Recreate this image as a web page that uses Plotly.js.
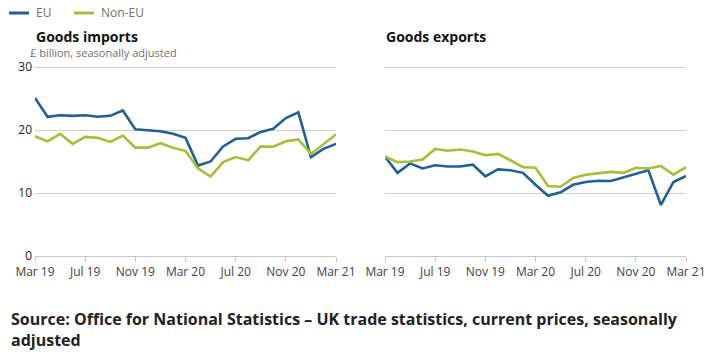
<!DOCTYPE html>
<html>
<head>
<meta charset="utf-8">
<script src="https://cdn.plot.ly/plotly-3.0.1.min.js"></script>
<style>html,body{margin:0;padding:0;background:#fff;}#chart{width:715px;height:353px;}</style>
</head>
<body>
<div id="chart"></div>
<script>
const months = ["Mar 19","Apr 19","May 19","Jun 19","Jul 19","Aug 19","Sep 19","Oct 19","Nov 19","Dec 19",
  "Jan 20","Feb 20","Mar 20","Apr 20","May 20","Jun 20","Jul 20","Aug 20","Sep 20","Oct 20","Nov 20","Dec 20",
  "Jan 21","Feb 21","Mar 21"];
const tickLabels = ["Mar 19","Jul 19","Nov 19","Mar 20","Jul 20","Nov 20","Mar 21"];
const yTicks = [0, 10, 20, 30];

const importsEU = [25.1,22.1,22.35,22.25,22.35,22.1,22.25,23.1,20.1,20.0,19.8,19.4,18.75,14.35,15.0,17.4,18.6,18.7,19.7,20.2,21.9,22.8,15.7,17.0,17.8];
const importsNonEU = [19.0,18.2,19.4,17.8,18.9,18.75,18.1,19.1,17.2,17.2,17.9,17.2,16.7,13.9,12.6,14.9,15.7,15.2,17.4,17.35,18.2,18.5,16.2,17.7,19.3];
const exportsEU = [15.76,13.2,14.7,13.9,14.4,14.2,14.2,14.5,12.65,13.75,13.6,13.2,11.3,9.55,10.1,11.3,11.75,11.95,11.9,12.5,13.1,13.6,8.1,11.75,12.7];
const exportsNonEU = [15.8,14.9,15.0,15.3,17.0,16.7,16.9,16.6,16.0,16.2,15.2,14.1,14.0,11.1,11.0,12.4,12.9,13.1,13.35,13.2,14.0,13.9,14.3,12.9,14.1];

const EU_COLOR = "#206095";
const NONEU_COLOR = "#A8BD3A";
const W = 715, H = 353;
const px = x => x / W;
const py = y => 1 - y / H;

const lineStyle = c => ({color: c, width: 2.6});
const traces = [
  {x: months, y: importsEU, type: "scatter", mode: "lines", name: "EU", line: lineStyle(EU_COLOR), xaxis: "x", yaxis: "y", showlegend: false},
  {x: months, y: importsNonEU, type: "scatter", mode: "lines", name: "Non-EU", line: lineStyle(NONEU_COLOR), xaxis: "x", yaxis: "y", showlegend: false},
  {x: months, y: exportsEU, type: "scatter", mode: "lines", name: "EU", line: lineStyle(EU_COLOR), xaxis: "x2", yaxis: "y2", showlegend: false},
  {x: months, y: exportsNonEU, type: "scatter", mode: "lines", name: "Non-EU", line: lineStyle(NONEU_COLOR), xaxis: "x2", yaxis: "y2", showlegend: false}
];

const font = "'Open Sans', sans-serif";
const xaxisBase = {
  type: "category", range: [0, months.length - 1], tickvals: tickLabels, ticktext: tickLabels,
  ticks: "outside", ticklen: 5, tickcolor: "#c8c8c8", showline: true, linecolor: "#c8c8c8", linewidth: 1,
  showgrid: false, zeroline: false, tickfont: {family: font, size: 12, color: "#414042"}, fixedrange: true
};
const yaxisBase = {
  range: [0, 30.2], tickvals: yTicks, showgrid: true, gridcolor: "#cfcfcf", gridwidth: 1, zeroline: false,
  showline: false, ticks: "", tickfont: {family: font, size: 12, color: "#222"}, fixedrange: true
};

const layout = {
  width: W, height: H, margin: {l: 0, r: 0, t: 0, b: 0}, paper_bgcolor: "#fff", plot_bgcolor: "#fff",
  font: {family: font},
  xaxis: Object.assign({}, xaxisBase, {domain: [px(35), px(336)], anchor: "y"}),
  yaxis: Object.assign({}, yaxisBase, {domain: [py(256), py(65.74)], anchor: "x", showticklabels: true, ticklabelstandoff: 2}),
  xaxis2: Object.assign({}, xaxisBase, {domain: [px(385), px(686)], anchor: "y2"}),
  yaxis2: Object.assign({}, yaxisBase, {domain: [py(256), py(65.74)], anchor: "x2", showticklabels: false}),
  shapes: [
    {type: "line", xref: "paper", yref: "paper", x0: px(9), x1: px(29), y0: py(13), y1: py(13), line: {color: EU_COLOR, width: 3}},
    {type: "line", xref: "paper", yref: "paper", x0: px(74), x1: px(94), y0: py(13), y1: py(13), line: {color: NONEU_COLOR, width: 3}}
  ],
  annotations: [
    {text: "EU", xref: "paper", yref: "paper", x: px(34), y: py(13), xanchor: "left", yanchor: "middle", showarrow: false, font: {family: font, size: 12, color: "#707070"}},
    {text: "Non-EU", xref: "paper", yref: "paper", x: px(99), y: py(13), xanchor: "left", yanchor: "middle", showarrow: false, font: {family: font, size: 12, color: "#707070"}},
    {text: "<b>Goods imports</b>", xref: "paper", yref: "paper", x: px(34), y: py(37), xanchor: "left", yanchor: "middle", showarrow: false, font: {family: font, size: 14, color: "#111"}},
    {text: "£ billion, seasonally adjusted", xref: "paper", yref: "paper", x: px(28), y: py(52.5), xanchor: "left", yanchor: "middle", showarrow: false, font: {family: font, size: 11, color: "#707070"}},
    {text: "<b>Goods exports</b>", xref: "paper", yref: "paper", x: px(384), y: py(37), xanchor: "left", yanchor: "middle", showarrow: false, font: {family: font, size: 14, color: "#111"}},
    {text: "<b>Source: Office for National Statistics – UK trade statistics, current prices, seasonally<br>adjusted</b>", xref: "paper", yref: "paper", x: px(9), y: py(329), xanchor: "left", yanchor: "middle", align: "left", showarrow: false, font: {family: font, size: 16, color: "#222"}}
  ]
};

Plotly.newPlot("chart", traces, layout, {displayModeBar: false, staticPlot: true});
</script>
</body>
</html>
